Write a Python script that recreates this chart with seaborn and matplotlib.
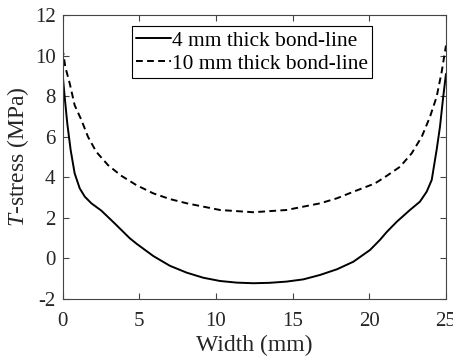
import matplotlib
matplotlib.use("Agg")
import matplotlib.pyplot as plt
import seaborn as sns
import pandas as pd

# ---- data ----
x_4mm = [0, 0.14, 0.31, 0.53, 0.79, 1.12, 1.45, 1.88, 2.53, 3.4, 4.38, 4.84,
         5.92, 7.0, 8.1, 9.18, 10.27, 11.35, 12.44, 13.5, 14.6, 15.7, 16.8,
         17.9, 18.96, 20.05, 20.7, 21.13, 21.79, 22.65, 23.3, 23.74, 24.07,
         24.39, 24.61, 24.82, 25]
y_4mm = [9.15, 7.97, 6.66, 5.35, 4.2, 3.46, 3.05, 2.72, 2.36, 1.73, 1.0, 0.72,
         0.12, -0.36, -0.7, -0.95, -1.11, -1.19, -1.22, -1.2, -1.14, -1.03, -0.81,
         -0.53, -0.16, 0.42, 0.92, 1.3, 1.81, 2.39, 2.8, 3.29, 3.87,
         5.35, 6.5, 7.97, 9.1]

x_10mm = [0, 0.18, 0.47, 0.79, 1.23, 1.66, 2.2, 2.97, 3.83, 4.81, 5.92, 7.0,
          8.1, 10.27, 12.44, 14.6, 16.8, 17.9, 18.96, 20.37, 21.13, 22.0, 22.76,
          23.42, 23.96, 24.39, 24.72, 25]
y_10mm = [10.36, 9.45, 8.63, 7.56, 6.83, 6.0, 5.26, 4.6, 4.08, 3.62, 3.21, 2.93,
          2.72, 2.39, 2.28, 2.39, 2.72, 2.97, 3.29, 3.7, 4.07, 4.52, 5.18,
          6.0, 6.99, 7.97, 9.2, 10.5]

labels = ["4 mm thick bond-line", "10 mm thick bond-line"]
x_ticks = [0, 5, 10, 15, 20, 25]
y_ticks = [-2, 0, 2, 4, 6, 8, 10, 12]

sns.set_style("white")
plt.rcParams["font.family"] = ["Liberation Serif", "DejaVu Serif"]
plt.rcParams["mathtext.fontset"] = "custom"
plt.rcParams["mathtext.rm"] = "Liberation Serif"
plt.rcParams["mathtext.it"] = "Liberation Serif:italic"

fig = plt.figure(figsize=(4.53, 3.59), dpi=100)
ax = fig.add_axes([0.138, 0.167, 0.9845 - 0.138, 0.958 - 0.167])

d4 = pd.DataFrame({"x": x_4mm, "y": y_4mm})
d10 = pd.DataFrame({"x": x_10mm, "y": y_10mm})
sns.lineplot(data=d4, x="x", y="y", ax=ax, color="black", lw=1.4,
             label=labels[0], sort=False)
sns.lineplot(data=d10, x="x", y="y", ax=ax, color="black", lw=1.4,
             linestyle=(0, (3.5, 2.2)), label=labels[1], sort=False)
for ln in ax.get_lines():
    ln.set_solid_joinstyle("round")
    ln.set_dash_joinstyle("round")

ax.set_xlim(0, 25)
ax.set_ylim(-2, 12)
ax.set_xticks(x_ticks)
ax.set_yticks(y_ticks)
ax.set_xticklabels([str(v) for v in x_ticks])
ax.set_yticklabels([str(v) for v in y_ticks])

gray = "#262626"
for s in ax.spines.values():
    s.set_visible(True)
    s.set_color("#444444")
    s.set_linewidth(0.8)
ax.tick_params(direction="in", length=4, width=0.8, color="#444444",
               labelsize=15, labelcolor=gray, top=True, right=True,
               bottom=True, left=True)
ax.tick_params(axis="x", pad=9)
ax.tick_params(axis="y", pad=5)

ax.set_xlabel("Width (mm)", fontsize=17, color=gray)
ax.set_ylabel("$T$-stress (MPa)", fontsize=17, color=gray)
ax.xaxis.set_label_coords(0.5, -0.125)
ax.yaxis.set_label_coords(-0.082, 0.5)

leg = ax.legend(loc="upper center", bbox_to_anchor=(0.494, 0.96),
                fontsize=15.4, frameon=True, fancybox=False, edgecolor="black",
                handlelength=1.6, handletextpad=0.05, labelspacing=0.15,
                borderpad=0.2, borderaxespad=0.0, framealpha=1)
leg.get_frame().set_linewidth(0.8)
for t in leg.get_texts():
    t.set_color("black")

fig.savefig("out.png", dpi=100)
